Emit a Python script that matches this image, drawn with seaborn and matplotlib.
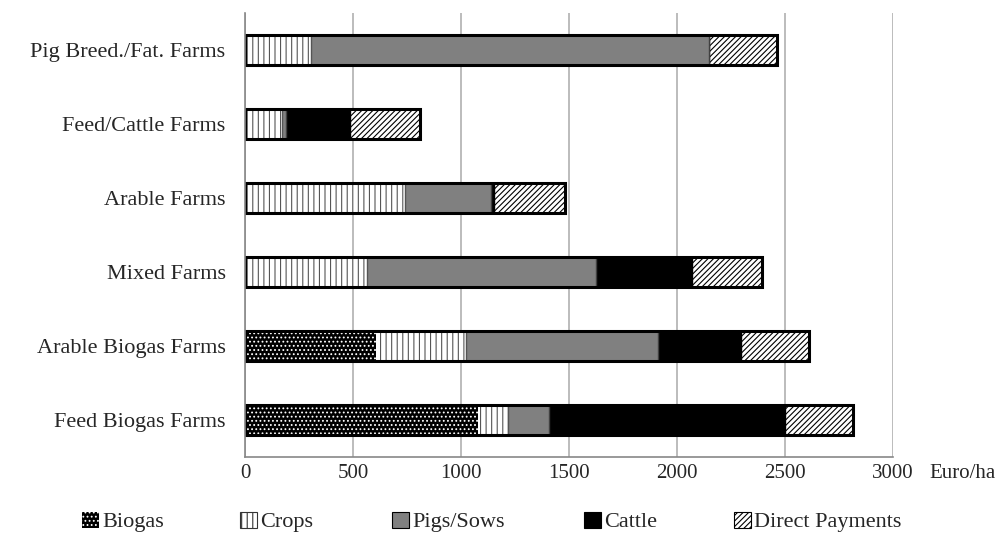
import matplotlib
matplotlib.use("Agg")
import matplotlib.pyplot as plt
import seaborn as sns
import numpy as np
import pandas as pd
from matplotlib.patches import Patch

categories = ["Pig Breed./Fat. Farms", "Feed/Cattle Farms", "Arable Farms",
              "Mixed Farms", "Arable Biogas Farms", "Feed Biogas Farms"]
biogas = [0, 0, 0, 0, 606, 1079]
crops = [305, 170, 740, 565, 419, 139]
pigs = [1845, 22, 400, 1062, 888, 190]
cattle = [0, 293, 15, 444, 382, 1093]
direct = [315, 323, 325, 324, 314, 313]
xticks = [0, 500, 1000, 1500, 2000, 2500, 3000]

sns.set_theme(style="white")
plt.rcParams["font.family"] = ["Liberation Serif", "DejaVu Serif"]
plt.rcParams["hatch.linewidth"] = 0.8

fig = plt.figure(figsize=(10.08, 5.42), dpi=100)
ax = fig.add_axes([245/1008, 1-457/542, (893-245)/1008, (457-13)/542])

df = pd.DataFrame({"cat": categories, "Biogas": biogas, "Crops": crops,
                   "Pigs/Sows": pigs, "Cattle": cattle, "Direct Payments": direct})
series = ["Biogas", "Crops", "Pigs/Sows", "Cattle", "Direct Payments"]
cum = df[series].cumsum(axis=1)

styles = {
    "Direct Payments": dict(color="white", edgecolor="black", hatch="//////", linewidth=1.0),
    "Cattle": dict(color="black", edgecolor="black", linewidth=1.0),
    "Pigs/Sows": dict(color="#808080", edgecolor="#404040", linewidth=1.0),
    "Crops": dict(color="white", edgecolor="#555555", hatch="|||", linewidth=1.0),
    "Biogas": dict(color="black", edgecolor="white", hatch="....", linewidth=0),
}
width = 0.41
for s in reversed(series):
    vals = cum[s].values
    st = styles[s]
    sns.barplot(x=vals, y=categories, orient="h", ax=ax, color=st["color"],
                saturation=1, errorbar=None, width=width,
                edgecolor=st["edgecolor"], hatch=st.get("hatch"),
                linewidth=st["linewidth"])
# outline of total bar
sns.barplot(x=cum["Direct Payments"].values, y=categories, orient="h", ax=ax,
            fill=False, errorbar=None, width=width, edgecolor="black",
            linewidth=2.2, color="black")

FS = 16
ax.set_xlim(0, 3000)
ax.set_ylim(5.5, -0.5)
ax.set_xticks(xticks)
ax.set_xticklabels([str(t) for t in xticks], fontsize=15)
ax.tick_params(axis="y", length=0, labelsize=FS, pad=14)
ax.tick_params(axis="x", length=0, pad=5)
ax.set_yticks(np.arange(-0.5, 6.0, 1.0), minor=True)
ax.tick_params(axis="y", which="minor", length=8, color="#888888", width=1)
ax.set_xlabel("")
ax.set_ylabel("")
ax.xaxis.grid(True, color="#b0b0b0", linewidth=1.2)
ax.set_axisbelow(True)
for sp in ["top", "right"]:
    ax.spines[sp].set_visible(False)
for sp in ["left", "bottom"]:
    ax.spines[sp].set_color("#888888")
    ax.spines[sp].set_linewidth(1.2)

ax.annotate("Euro/ha", xy=(1, 0), xycoords="axes fraction", xytext=(26, -5),
            textcoords="offset points", fontsize=15, ha="left", va="top")

legend_x = [82, 240, 392, 584, 734]
for s, lx in zip(series, legend_x):
    st = styles[s]
    if s == "Biogas":
        h = Patch(facecolor="black", edgecolor="white", hatch="....", linewidth=0)
    else:
        h = Patch(facecolor=st["color"], edgecolor="black" if s != "Crops" else "#333333",
                  hatch=st.get("hatch"), linewidth=0.8)
    fig.legend([h], [s], loc="center left",
               bbox_to_anchor=(lx/1008, 1-522/542), frameon=False, fontsize=FS,
               handlelength=0.75, handleheight=0.75, handletextpad=0.15,
               borderpad=0, borderaxespad=0)

fig.savefig("out.png", dpi=100)
